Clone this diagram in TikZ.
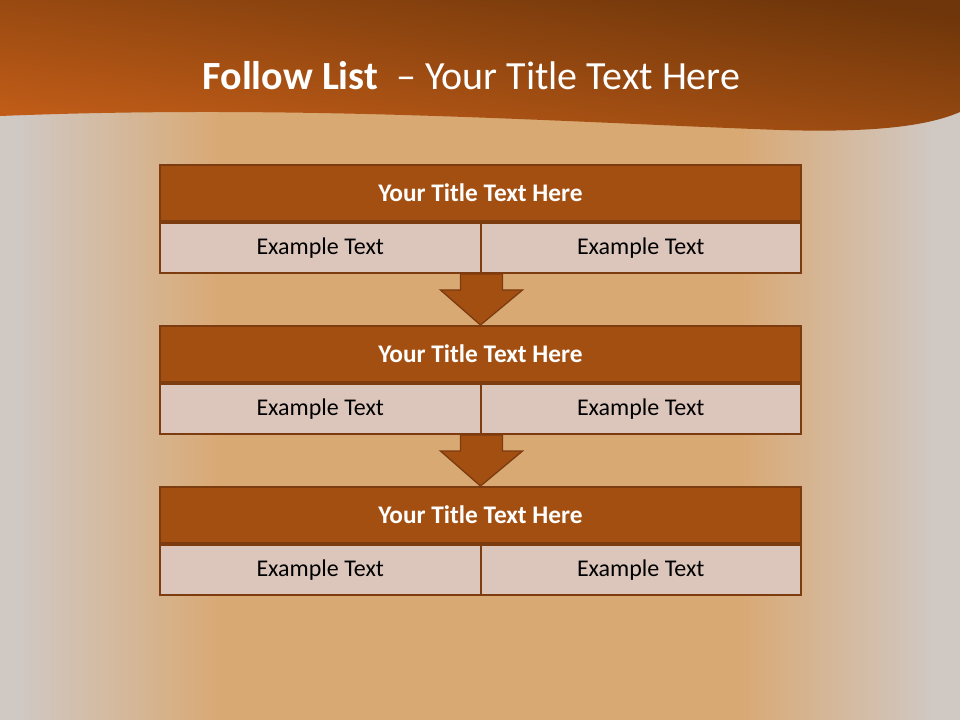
\documentclass[tikz,border=0pt]{standalone}
\usepackage{fontspec}
\setmainfont{Carlito}
\usepackage{xcolor}
\definecolor{FLGray}{HTML}{D0C8C3}
\definecolor{FLOchre}{HTML}{D9A974}
\definecolor{FLHeadDark}{HTML}{6E360A}
\definecolor{FLHeadLight}{HTML}{C25D18}
\definecolor{FLRust}{HTML}{A44F12}
\definecolor{FLEdge}{HTML}{7D3B10}
\definecolor{FLSand}{HTML}{DCC6BC}
\usepackage{tikz}
\usetikzlibrary{positioning,calc}

\begin{document}
\begin{tikzpicture}[
  x=0.75pt,y=-0.75pt,
  head/.style={draw=FLEdge,line width=1.5pt,fill=FLRust,text=white,minimum width=480.75pt,minimum height=42pt,inner sep=0pt,font=\fontsize{19}{22}\selectfont\bfseries},
  cell/.style={draw=FLEdge,line width=1.5pt,fill=FLSand,text=black,minimum width=240.375pt,minimum height=37.5pt,inner sep=0pt,font=\fontsize{18}{21}\selectfont},
  flow/.style={draw=FLEdge,line width=1pt,fill=FLRust,line join=miter}
]
  % backdrop and header band
  \fill[FLGray] (0,0) rectangle (960,720);
  \shade[left color=FLGray,right color=FLOchre] (20,0) rectangle (220,720);
  \fill[FLOchre] (219,0) rectangle (741,720);
  \shade[left color=FLOchre,right color=FLGray] (740,0) rectangle (935,720);
  \shade[top color=FLHeadDark,bottom color=FLHeadLight,shading angle=-8] (0,0) -- (960,0) -- (960,112) .. controls (930,125) and (880,133) .. (780,130) .. controls (560,122) and (300,104) .. (0,116) -- cycle;
  \node[text=white,font=\fontsize{30}{34}\selectfont] (title) at (471.5,76) {\textbf{Follow List}\ \ -- Your Title Text Here};

  % first box
  \node[head] (t1) at (480.5,193) {Your Title Text Here};
  \node[cell,anchor=north west] (l1) at (t1.south west) {Example Text};
  \node[cell,anchor=north east] (r1) at (t1.south east) {Example Text};
  % second box
  \node[head] (t2) at (480.5,354) {Your Title Text Here};
  \node[cell,anchor=north west] (l2) at (t2.south west) {Example Text};
  \node[cell,anchor=north east] (r2) at (t2.south east) {Example Text};
  % third box
  \node[head] (t3) at (480.5,515) {Your Title Text Here};
  \node[cell,anchor=north west] (l3) at (t3.south west) {Example Text};
  \node[cell,anchor=north east] (r3) at (t3.south east) {Example Text};

  % block arrows
  \draw[flow] ($(l1.south east)+(-21,0)$) -- ++(0,16) -- ++(-20,0) -- (t2.north) -- ($(l1.south east)+(41,16)$) -- ++(-20,0) -- ++(0,-16) -- cycle;
  \draw[flow] ($(l2.south east)+(-21,0)$) -- ++(0,16) -- ++(-20,0) -- (t3.north) -- ($(l2.south east)+(41,16)$) -- ++(-20,0) -- ++(0,-16) -- cycle;
\end{tikzpicture}
\end{document}
